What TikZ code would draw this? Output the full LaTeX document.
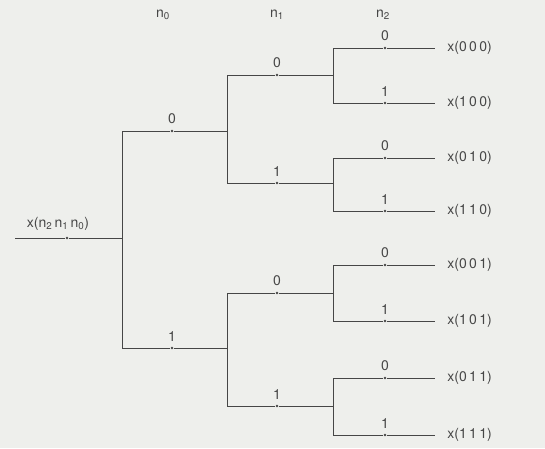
\documentclass[tikz,border=0pt]{standalone}
\usepackage{fontspec}
\setmainfont{TeX Gyre Heros}
\definecolor{paper}{RGB}{238,239,236}
\definecolor{ink}{RGB}{70,70,70}
\tikzset{
  dot/.style={circle,fill=ink,inner sep=0pt,minimum size=2.6pt},
  bit/.style={font=\fontsize{14}{16}\selectfont,text=ink,inner sep=1pt},
  outlbl/.style={anchor=west,inner xsep=12pt,inner ysep=0pt,text=ink,
    font=\fontsize{14}{16}\selectfont},
  head/.style={text=ink,font=\fontsize{14}{16}\selectfont}
}
\begin{document}
\begin{tikzpicture}[x=1pt,y=-1pt,line width=0.7pt,draw=ink]
	\fill[paper] (0,0) rectangle (545,448);
	\useasboundingbox (0,0) rectangle (545,448);

	% column heads
	\node (hn0) [head] at (163,15) {n\textsubscript{0}};
	\node (hn1) [head] at (277,15) {n\textsubscript{1}};
	\node (hn2) [head] at (383,15) {n\textsubscript{2}};

	% input
	\coordinate (in) at (15,238);
	\coordinate (root) at (122,238);
	\node (din) [dot,label={[bit,label distance=5pt,xshift=-9pt]above:x(n\textsubscript{2}\,n\textsubscript{1}\,n\textsubscript{0})}] at (67,238) {};
	\draw (in) -- (din) -- (root);

	% stage n0
	\node (d0) [dot,label={[bit,label distance=4pt]above:0}] at (172,131) {};
	\node (d1) [dot,label={[bit,label distance=4pt]above:1}] at (172,348) {};
	\coordinate (s0) at (227,131);
	\coordinate (s1) at (227,348);
	\draw (root) |- (d0) -- (s0);
	\draw (root) |- (d1) -- (s1);

	% stage n1
	\node (d00) [dot,label={[bit,label distance=4pt]above:0}] at (277,75) {};
	\node (d01) [dot,label={[bit,label distance=4pt]above:1}] at (277,183) {};
	\node (d10) [dot,label={[bit,label distance=4pt]above:0}] at (277,293) {};
	\node (d11) [dot,label={[bit,label distance=4pt]above:1}] at (277,406) {};
	\coordinate (s00) at (333,75);
	\coordinate (s01) at (333,183);
	\coordinate (s10) at (333,293);
	\coordinate (s11) at (333,406);
	\draw (s0) |- (d00) -- (s00);
	\draw (s0) |- (d01) -- (s01);
	\draw (s1) |- (d10) -- (s10);
	\draw (s1) |- (d11) -- (s11);

	% stage n2
	\node (d000) [dot,label={[bit,label distance=4pt]above:0}] at (385,48) {};
	\node (d001) [dot,label={[bit,label distance=4pt]above:1}] at (385,103) {};
	\node (d010) [dot,label={[bit,label distance=4pt]above:0}] at (385,158) {};
	\node (d011) [dot,label={[bit,label distance=4pt]above:1}] at (385,211) {};
	\node (d100) [dot,label={[bit,label distance=4pt]above:0}] at (385,265) {};
	\node (d101) [dot,label={[bit,label distance=4pt]above:1}] at (385,321) {};
	\node (d110) [dot,label={[bit,label distance=4pt]above:0}] at (385,378) {};
	\node (d111) [dot,label={[bit,label distance=4pt]above:1}] at (385,435) {};

	% outputs
	\node (x000) [outlbl] at (435,48) {x(0\,0\,0)};
	\node (x100) [outlbl] at (435,103) {x(1\,0\,0)};
	\node (x010) [outlbl] at (435,158) {x(0\,1\,0)};
	\node (x110) [outlbl] at (435,211) {x(1\,1\,0)};
	\node (x001) [outlbl] at (435,265) {x(0\,0\,1)};
	\node (x101) [outlbl] at (435,321) {x(1\,0\,1)};
	\node (x011) [outlbl] at (435,378) {x(0\,1\,1)};
	\node (x111) [outlbl] at (435,435) {x(1\,1\,1)};

	\draw (s00) |- (d000) -- (x000);
	\draw (s00) |- (d001) -- (x100);
	\draw (s01) |- (d010) -- (x010);
	\draw (s01) |- (d011) -- (x110);
	\draw (s10) |- (d100) -- (x001);
	\draw (s10) |- (d101) -- (x101);
	\draw (s11) |- (d110) -- (x011);
	\draw (s11) |- (d111) -- (x111);
\end{tikzpicture}
\end{document}
